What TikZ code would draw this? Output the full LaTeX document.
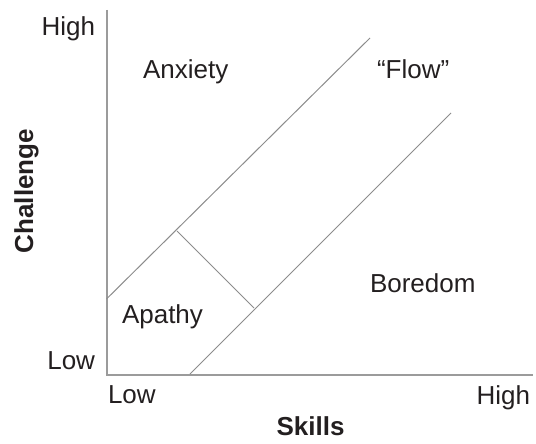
\documentclass[tikz,border=0pt]{standalone}
\usepackage{fontspec}
\setmainfont{Liberation Sans}
\definecolor{txt}{RGB}{35,31,32}
\definecolor{axisgray}{RGB}{155,155,155}
\definecolor{linegray}{RGB}{140,140,140}
\begin{document}
\begin{tikzpicture}[x=1pt,y=-1pt,
  lbl/.style={inner sep=0pt,outer sep=0pt,text=txt,font=\fontsize{26}{30}\selectfont},
  blbl/.style={lbl,font=\fontsize{26}{30}\selectfont\bfseries},
  axisline/.style={draw=axisgray,line width=2pt},
  zoneline/.style={draw=linegray,line width=1pt}]
\useasboundingbox (0,0) rectangle (536,444);
% axes
\coordinate (top) at (106.5,10);
\coordinate (origin) at (106.5,374.5);
\coordinate (right) at (533,374.5);
\draw[axisline] (top) -- (origin) -- (right);
% diagonals
\coordinate (u1) at (106.5,299);
\coordinate (u2) at (370,38);
\coordinate (l1) at (190,374);
\coordinate (l2) at (451,113);
\coordinate (p1) at (177,231);
\coordinate (p2) at (254,308);
\draw[zoneline] (u1) -- (u2);
\draw[zoneline] (l1) -- (l2);
\draw[zoneline] (p1) -- (p2);
% axis labels
\node[lbl,anchor=base east] (yhigh) at (95,36) {High};
\node[lbl,anchor=base east] (ylow) at (95,369) {Low};
\node[lbl,anchor=base west] (xlow) at (108,403) {Low};
\node[lbl,anchor=base east] (xhigh) at (530,404) {High};
\node[blbl,anchor=base] (skills) at (310.5,435) {Skills};
\node[blbl,anchor=base,rotate=90] (challenge) at (33,191) {Challenge};
% zone labels
\node[lbl,anchor=base west] (anx) at (143,79) {Anxiety};
\node[lbl,anchor=base west] (flow) at (377,79) {“Flow”};
\node[lbl,anchor=base west] (apathy) at (122,323) {Apathy};
\node[lbl,anchor=base west] (bore) at (370,292) {Boredom};
\end{tikzpicture}
\end{document}
